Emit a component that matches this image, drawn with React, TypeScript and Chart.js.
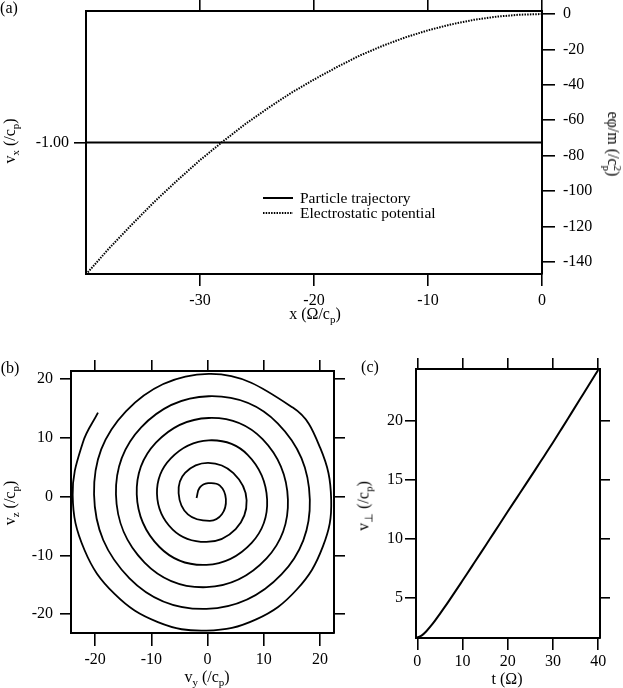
import React, { useEffect, useRef } from 'react';
import { Chart, registerables } from 'chart.js';

Chart.register(...registerables);

const FONT = '"Liberation Serif", "Times New Roman", serif';

// ---------- Panel (a) ----------
const trajX = [-40, 0];
const trajVx = [-1.0, -1.0];
const potX = [-40, -38, -36, -34, -32, -30, -28, -26, -24, -22, -20, -18, -16, -14, -12, -10, -8, -6, -4, -2, 0];
const potPhi = [-147, -132.5, -119, -106, -94, -82.5, -72, -62, -53, -44.5, -37, -30, -23.5, -18, -13.2, -9.2, -5.9, -3.3, -1.5, -0.4, 0];
const aXTicks = [-30, -20, -10, 0];
const aLeftTicks = [-1.0];
const aRightTicks = [0, -20, -40, -60, -80, -100, -120, -140];

// ---------- Panel (b) ----------
const spiralVy = [
  -1.96, -1.4, 0.1, 2.2, 3.26, 2.55, 0.4, -3.5,
  -5.15, -4.0, 0.1, 4.6, 6.95, 5.0, -0.2, -6.2,
  -9.0, -6.54, 0.2, 7.14, 10.6, 7.85, -0.2, -8.56,
  -12.6, -9.19, 0.2, 9.79, 14.3, 10.5, -0.2, -11.21,
  -16.3, -11.81, 0.2, 12.48, 18.2, 13.19, -0.2, -13.89,
  -20.2, -14.53, 0.2, 15.17, 20.05, 22.0, 20.51, 15.84, 8.65, -0.2, -8.84, -16.55,
  -21.9, -24.0, -22.2, -19.5,
];
const spiralVz = [
  -0.22, 1.55, 2.3, 1.9, -0.4, -3.0, -4.1, -3.0,
  0.6, 4.05, 5.75, 4.0, -0.6, -5.5, -7.7, -5.6,
  0.5, 6.54, 9.6, 7.14, -0.5, -7.85, -11.6, -8.56,
  0.4, 9.19, 13.4, 9.79, -0.5, -10.5, -15.4, -11.21,
  0.4, 11.81, 17.1, 12.48, -0.5, -13.19, -19.1, -13.89,
  0.4, 14.53, 20.9, 15.17, 8.3, -0.5, -8.5, -15.84, -20.88, -22.8, -21.34, -16.55,
  -9.07, 0.3, 9.2, 14.3,
];
const bTicks = [-20, -10, 0, 10, 20];

// ---------- Panel (c) ----------
const tVals = [0, 1, 2, 3, 4, 5, 6, 7, 8, 9, 10, 12, 14, 16, 18, 20, 22, 24, 26, 28, 30, 32, 34, 36, 38, 40];
const vPerp = [1.68, 1.85, 2.2, 2.65, 3.15, 3.68, 4.22, 4.78, 5.35, 5.92, 6.5, 7.66, 8.82, 10.0, 11.17, 12.35, 13.51, 14.67, 15.84, 17.02, 18.2, 19.42, 20.65, 21.88, 23.11, 24.35];
const cXTicks = [0, 10, 20, 30, 40];
const cYTicks = [5, 10, 15, 20];

type AxisSpec = {
  axis: 'x' | 'y';
  position: string;
  min: number;
  max: number;
  ticks: number[];
  labels: boolean;
  size: number;
  tickLen: number;
  pad: number;
  fmt?: (v: number) => string;
};

function makeAxis(s: AxisSpec) {
  return {
    type: 'linear',
    axis: s.axis,
    position: s.position,
    min: s.min,
    max: s.max,
    afterBuildTicks: (scale: any) => {
      scale.ticks = s.ticks.map((v) => ({ value: v }));
    },
    afterFit: (scale: any) => {
      if (s.axis === 'x') scale.height = s.size;
      else scale.width = s.size;
      scale.paddingTop = 0;
      scale.paddingBottom = 0;
      scale.paddingLeft = 0;
      scale.paddingRight = 0;
    },
    grid: {
      display: true,
      drawOnChartArea: false,
      drawTicks: true,
      tickLength: s.tickLen,
      tickWidth: 1.6,
      tickColor: '#000',
      color: '#000',
      lineWidth: 1.6,
    },
    border: { display: true, color: '#000', width: 2 },
    ticks: {
      display: s.labels,
      padding: s.pad,
      color: '#000',
      font: { family: FONT, size: 16 },
      maxRotation: 0,
      minRotation: 0,
      autoSkip: false,
      callback: (v: any) => (s.fmt ? s.fmt(Number(v)) : String(v)),
    },
    title: { display: false },
  };
}

const innerLegend = {
  id: 'innerLegend',
  afterDatasetsDraw(chart: any) {
    const ctx = chart.ctx;
    const a = chart.chartArea;
    const x0 = a.left + 177;
    const x1 = a.left + 207;
    const tx = a.left + 214;
    const rows = [a.top + 187, a.top + 202];
    ctx.save();
    chart.data.datasets.forEach((ds: any, i: number) => {
      const y = rows[i];
      ctx.beginPath();
      ctx.setLineDash(ds.borderDash || []);
      ctx.strokeStyle = ds.borderColor;
      ctx.lineWidth = ds.borderWidth;
      ctx.moveTo(x0, y);
      ctx.lineTo(x1, y);
      ctx.stroke();
      ctx.setLineDash([]);
      ctx.fillStyle = '#000';
      ctx.font = `15.5px ${FONT}`;
      ctx.textBaseline = 'alphabetic';
      ctx.textAlign = 'left';
      ctx.fillText(ds.label, tx, y + 4.5);
    });
    ctx.restore();
  },
};

const baseOptions = {
  responsive: false,
  maintainAspectRatio: false,
  animation: false,
  events: [],
  devicePixelRatio: 1,
  layout: { padding: 0 },
  plugins: { legend: { display: false }, tooltip: { enabled: false } },
};

const configA: any = {
  type: 'scatter',
  data: {
    datasets: [
      {
        label: 'Particle trajectory',
        data: trajX.map((x, i) => ({ x, y: trajVx[i] })),
        xAxisID: 'x',
        yAxisID: 'yL',
        showLine: true,
        borderColor: '#000',
        borderWidth: 2,
        pointRadius: 0,
      },
      {
        label: 'Electrostatic potential',
        data: potX.map((x, i) => ({ x, y: potPhi[i] })),
        xAxisID: 'x',
        yAxisID: 'yR',
        showLine: true,
        borderColor: '#000',
        borderWidth: 2,
        borderDash: [1.5, 1.2],
        pointRadius: 0,
      },
    ],
  },
  options: {
    ...baseOptions,
    scales: {
      x: makeAxis({ axis: 'x', position: 'bottom', min: -40, max: 0, ticks: aXTicks, labels: true, size: 414, tickLen: 12, pad: 5 }),
      x2: makeAxis({ axis: 'x', position: 'top', min: -40, max: 0, ticks: aXTicks, labels: false, size: 11, tickLen: 11, pad: 0 }),
      yL: makeAxis({ axis: 'y', position: 'left', min: -2, max: 0, ticks: aLeftTicks, labels: true, size: 86, tickLen: 12, pad: 5, fmt: (v) => v.toFixed(2) }),
      yR: makeAxis({ axis: 'y', position: 'right', min: -146.8, max: 1.7, ticks: aRightTicks, labels: true, size: 81, tickLen: 13, pad: 8 }),
    },
  },
  plugins: [innerLegend],
};

const configB: any = {
  type: 'scatter',
  data: {
    datasets: [
      {
        label: 'Spiral',
        data: spiralVy.map((x, i) => ({ x, y: spiralVz[i] })),
        xAxisID: 'x',
        yAxisID: 'y',
        showLine: true,
        borderColor: '#000',
        borderWidth: 1.8,
        pointRadius: 0,
        tension: 0.4,
      },
    ],
  },
  options: {
    ...baseOptions,
    scales: {
      x: makeAxis({ axis: 'x', position: 'bottom', min: -24.3, max: 22.5, ticks: bTicks, labels: true, size: 55, tickLen: 13, pad: 4 }),
      x2: makeAxis({ axis: 'x', position: 'top', min: -24.3, max: 22.5, ticks: bTicks, labels: false, size: 371, tickLen: 11, pad: 0 }),
      y: makeAxis({ axis: 'y', position: 'left', min: -23.2, max: 21.4, ticks: bTicks, labels: true, size: 71, tickLen: 11, pad: 7 }),
      y2: makeAxis({ axis: 'y', position: 'right', min: -23.2, max: 21.4, ticks: bTicks, labels: false, size: 289, tickLen: 11, pad: 0 }),
    },
  },
};

const configC: any = {
  type: 'scatter',
  data: {
    datasets: [
      {
        label: 'v_perp',
        data: tVals.map((x, i) => ({ x, y: vPerp[i] })),
        xAxisID: 'x',
        yAxisID: 'y',
        showLine: true,
        borderColor: '#000',
        borderWidth: 2,
        pointRadius: 0,
        cubicInterpolationMode: 'monotone',
      },
    ],
  },
  options: {
    ...baseOptions,
    scales: {
      x: makeAxis({ axis: 'x', position: 'bottom', min: -0.29, max: 40.4, ticks: cXTicks, labels: true, size: 50, tickLen: 12, pad: 2 }),
      x2: makeAxis({ axis: 'x', position: 'top', min: -0.29, max: 40.4, ticks: cXTicks, labels: false, size: 369, tickLen: 11, pad: 0 }),
      y: makeAxis({ axis: 'y', position: 'left', min: 1.63, max: 24.43, ticks: cYTicks, labels: true, size: 416, tickLen: 11, pad: 2 }),
      y2: makeAxis({ axis: 'y', position: 'right', min: 1.63, max: 24.43, ticks: cYTicks, labels: false, size: 23, tickLen: 10, pad: 0 }),
    },
  },
};

function PanelChart({ config }: { config: any }) {
  const ref = useRef<HTMLCanvasElement | null>(null);
  useEffect(() => {
    const chart = new Chart(ref.current as HTMLCanvasElement, config);
    return () => chart.destroy();
  }, [config]);
  return (
    <canvas
      ref={ref}
      width={623}
      height={688}
      style={{ position: 'absolute', left: 0, top: 0, width: 623, height: 688 }}
    />
  );
}

const labelBase: React.CSSProperties = {
  position: 'absolute',
  fontFamily: FONT,
  fontSize: 16,
  lineHeight: 1,
  whiteSpace: 'nowrap',
  color: '#000',
};

function Lbl({ cx, cy, rot = 0, children }: { cx: number; cy: number; rot?: number; children: React.ReactNode }) {
  return (
    <div style={{ ...labelBase, left: cx, top: cy, transform: `translate(-50%, -50%) rotate(${rot}deg)` }}>
      {children}
    </div>
  );
}

const subS: React.CSSProperties = { fontSize: 11, verticalAlign: -4 };

export default function App() {
  return (
    <div style={{ position: 'absolute', left: 0, top: 0, width: 623, height: 688, background: '#fff', overflow: 'hidden' }}>
      <PanelChart config={configA} />
      <PanelChart config={configB} />
      <PanelChart config={configC} />

      <Lbl cx={9} cy={8}>(a)</Lbl>
      <Lbl cx={10} cy={368}>(b)</Lbl>
      <Lbl cx={370} cy={367}>(c)</Lbl>

      <Lbl cx={11} cy={141} rot={-90}>
        v<span style={subS}>x</span> (/c<span style={subS}>p</span>)
      </Lbl>
      <Lbl cx={612} cy={144} rot={90}>
        eφ/m (/c
        <span style={{ display: 'inline-block', verticalAlign: 'middle', fontSize: 11, lineHeight: 1, textAlign: 'center' }}>
          <span style={{ display: 'block' }}>2</span>
          <span style={{ display: 'block' }}>p</span>
        </span>
        )
      </Lbl>
      <Lbl cx={315} cy={315}>
        x (Ω/c<span style={subS}>p</span>)
      </Lbl>

      <Lbl cx={11} cy={503} rot={-90}>
        v<span style={subS}>z</span> (/c<span style={subS}>p</span>)
      </Lbl>
      <Lbl cx={207} cy={678}>
        v<span style={subS}>y</span> (/c<span style={subS}>p</span>)
      </Lbl>

      <Lbl cx={365} cy={506} rot={-90}>
        v<span style={subS}>⊥</span> (/c<span style={subS}>p</span>)
      </Lbl>
      <Lbl cx={507} cy={679}>t (Ω)</Lbl>
    </div>
  );
}
